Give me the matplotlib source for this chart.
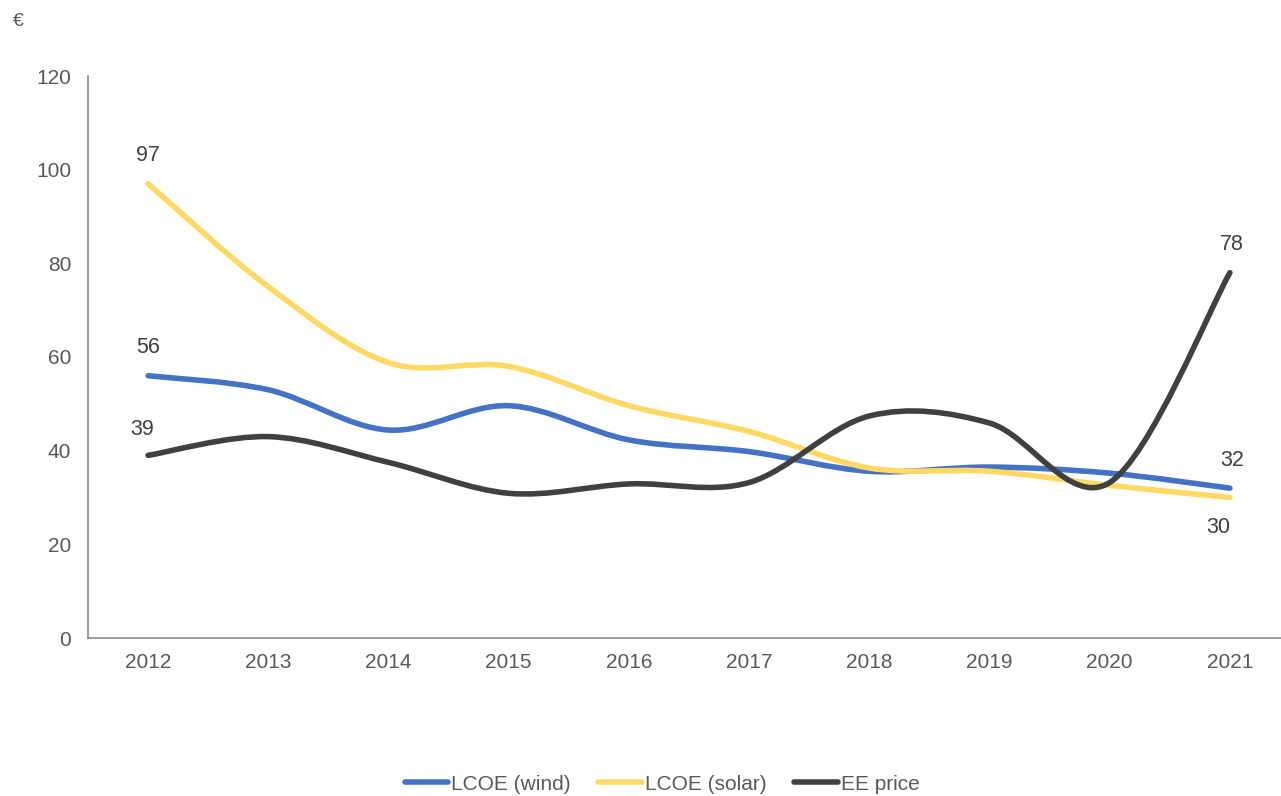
import matplotlib
matplotlib.use("Agg")
import matplotlib.pyplot as plt
import numpy as np
from matplotlib.path import Path
from matplotlib.patches import PathPatch
from matplotlib.lines import Line2D

years = [2012, 2013, 2014, 2015, 2016, 2017, 2018, 2019, 2020, 2021]
wind = [56, 53.0, 44.4, 49.6, 42.3, 39.8, 35.6, 36.5, 35.2, 32]
solar = [97, 75.0, 58.8, 58.0, 49.6, 44.1, 36.3, 35.6, 32.6, 30]
ee_price = [39, 43.0, 37.5, 30.9, 32.9, 33.2, 47.4, 45.9, 33.2, 78]
series_names = ["LCOE (wind)", "LCOE (solar)", "EE price"]
colors = ["#4472C4", "#FFD966", "#404040"]
y_ticks = [0, 20, 40, 60, 80, 100, 120]

TEXT = "#595959"
plt.rcParams['font.family'] = ['Liberation Sans', 'DejaVu Sans']

fig = plt.figure(figsize=(12.81, 7.96), dpi=100)
ax = fig.add_axes([88/1281, 158/796, 1202/1281, 562/796])
ax.set_xlim(2011.5, 2021.5)
ax.set_ylim(0, 120)


def smooth_path(xs, ys):
    xs = np.asarray(xs, float)
    ys = np.asarray(ys, float)
    n = len(xs)
    verts = [(xs[0], ys[0])]
    codes = [Path.MOVETO]
    for i in range(n - 1):
        i0 = max(i - 1, 0)
        i3 = min(i + 2, n - 1)
        c1 = (xs[i] + (xs[i + 1] - xs[i0]) / 6, ys[i] + (ys[i + 1] - ys[i0]) / 6)
        c2 = (xs[i + 1] - (xs[i3] - xs[i]) / 6, ys[i + 1] - (ys[i3] - ys[i]) / 6)
        verts += [c1, c2, (xs[i + 1], ys[i + 1])]
        codes += [Path.CURVE4] * 3
    return Path(verts, codes)


handles = []
for vals, name, col in zip([wind, solar, ee_price], series_names, colors):
    p = PathPatch(smooth_path(years, vals), fill=False, edgecolor=col,
                  lw=4.0, capstyle='round', joinstyle='round', zorder=3)
    ax.add_patch(p)
    handles.append(Line2D([0], [0], color=col, lw=4.0, solid_capstyle='round'))

# data labels
labels = [
    (years[0], solar[0], "97", (0, 28)),
    (years[0], wind[0], "56", (0, 28)),
    (years[0], ee_price[0], "39", (-6, 26)),
    (years[-1], ee_price[-1], "78", (2, 28)),
    (years[-1], wind[-1], "32", (2, 28)),
    (years[-1], solar[-1], "30", (-12, -30)),
]
for x, y, t, off in labels:
    ax.annotate(t, (x, y), xytext=off, textcoords='offset pixels',
                ha='center', va='center', fontsize=15.5, color="#404040")

for s in ['top', 'right']:
    ax.spines[s].set_visible(False)
for s in ['left', 'bottom']:
    ax.spines[s].set_color("#808080")
    ax.spines[s].set_linewidth(1.1)

ax.set_xticks(years)
ax.set_xticklabels([str(y) for y in years])
ax.set_yticks(y_ticks)
ax.set_yticklabels([str(v) for v in y_ticks])
ax.tick_params(axis='both', length=0, labelsize=15, labelcolor=TEXT)
ax.tick_params(axis='x', pad=11)
ax.tick_params(axis='y', pad=12)

fig.text(18/1281, 1 - 22/796, "€", fontsize=14, color=TEXT, ha='center', va='center')

fig.legend(handles, series_names, loc='center', bbox_to_anchor=(662/1281, 1 - 784/796),
           ncol=3, frameon=False, fontsize=15, labelcolor=TEXT,
           handlelength=2.1, handletextpad=0.15, columnspacing=1.3)

fig.savefig("out.png", dpi=100)
